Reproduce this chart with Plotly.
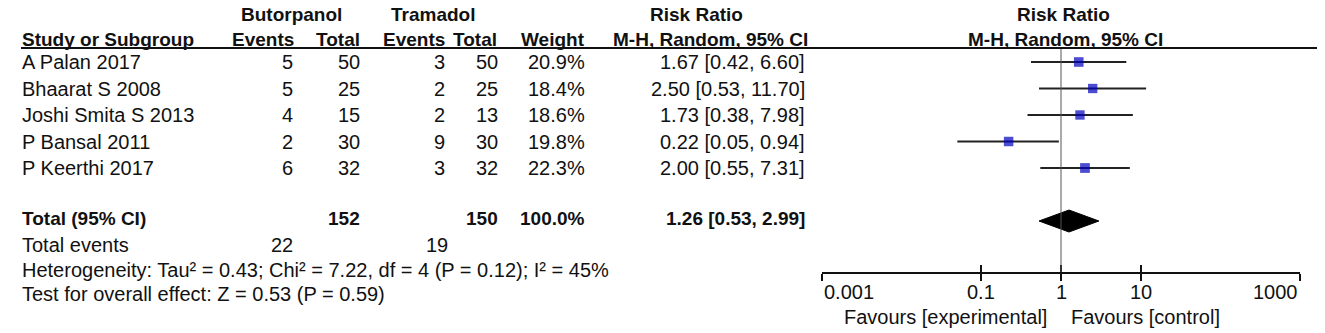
import math
import plotly.graph_objects as go

# ---------------- data ----------------
studies = ["A Palan 2017", "Bhaarat S 2008", "Joshi Smita S 2013", "P Bansal 2011", "P Keerthi 2017"]
but_events = [5, 5, 4, 2, 6]
but_total = [50, 25, 15, 30, 32]
tra_events = [3, 2, 2, 9, 3]
tra_total = [50, 25, 13, 30, 32]
weights = [20.9, 18.4, 18.6, 19.8, 22.3]
rr = [1.67, 2.50, 1.73, 0.22, 2.00]
ci_lo = [0.42, 0.53, 0.38, 0.05, 0.55]
ci_hi = [6.60, 11.70, 7.98, 0.94, 7.31]

total_label = "Total (95% CI)"
total_but = 152
total_tra = 150
total_weight = 100.0
total_rr = 1.26
total_lo = 0.53
total_hi = 2.99
events_but = 22
events_tra = 19

het_text = "Heterogeneity: Tau² = 0.43; Chi² = 7.22, df = 4 (P = 0.12); I² = 45%"
overall_text = "Test for overall effect: Z = 0.53 (P = 0.59)"

tick_vals = [0.001, 0.1, 1, 10, 1000]
tick_text = ["0.001", "0.1", "1", "10", "1000"]
fav_left = "Favours [experimental]"
fav_right = "Favours [control]"

# ---------------- layout helpers ----------------
W, H = 1325, 333
FONT = "Liberation Sans, Arial, sans-serif"
FS = 20
FS_B = 19
TXT = "#111111"


def px(x):
    return x / W


def py(y):
    return 1 - y / H


ROW0, STEP = 62, 26.5          # pixel centre of first study row, row pitch
AX_TOP, AX_BOT = 48, 272       # plot area (header rule to axis line)
y_top = (AX_TOP - ROW0) / STEP
y_bot = (AX_BOT - ROW0) / STEP
total_row = len(studies) + 1

fig = go.Figure()

# CI whiskers
xs, ys = [], []
for i, (lo, hi) in enumerate(zip(ci_lo, ci_hi)):
    xs += [lo, hi, None]
    ys += [i, i, None]
fig.add_trace(go.Scatter(x=xs, y=ys, mode="lines", line=dict(color="#222222", width=2),
                         hoverinfo="skip", showlegend=False))

# point estimates
fig.add_trace(go.Scatter(x=rr, y=list(range(len(studies))), mode="markers",
                         marker=dict(symbol="square", size=[7.5 + 0.1 * w for w in weights],
                                     color="#0000BE", line=dict(width=0)),
                         showlegend=False))

# pooled diamond
h = 11 / STEP
fig.add_trace(go.Scatter(x=[total_lo, total_rr, total_hi, total_rr, total_lo],
                         y=[total_row, total_row - h, total_row, total_row + h, total_row],
                         mode="lines", fill="toself", fillcolor="#000000",
                         line=dict(color="#000000", width=1), showlegend=False))

# second x axis used only for the upward half of the tick marks
fig.add_trace(go.Scatter(x=[1], y=[total_row], xaxis="x2", mode="markers",
                         marker=dict(opacity=0), showlegend=False, hoverinfo="skip"))

dom = [px(822), px(1300)]
fig.update_layout(
    width=W, height=H, margin=dict(l=0, r=0, t=0, b=0),
    paper_bgcolor="white", plot_bgcolor="white",
    font=dict(family=FONT, size=FS, color=TXT),
    xaxis=dict(type="log", range=[-3, 3], domain=dom, anchor="y",
               showline=True, linecolor="#111111", linewidth=2,
               ticks="outside", ticklen=7, tickwidth=2, tickcolor="#111111",
               tickvals=tick_vals, showticklabels=False,
               showgrid=False, zeroline=False),
    xaxis2=dict(type="log", range=[-3, 3], domain=dom, anchor="y", overlaying="x",
                side="bottom", showline=False,
                ticks="inside", ticklen=7, tickwidth=2, tickcolor="#111111",
                tickvals=tick_vals, showticklabels=False, showgrid=False, zeroline=False),
    yaxis=dict(range=[y_bot, y_top], domain=[py(AX_BOT), py(AX_TOP)], visible=False,
               showgrid=False, zeroline=False),
)

# reference line at RR = 1 and header rule
fig.add_shape(type="line", xref="x", yref="paper", x0=1, x1=1, y0=py(AX_BOT), y1=py(AX_TOP),
              line=dict(color="#555555", width=1))
fig.add_shape(type="line", xref="paper", yref="paper", x0=px(21), x1=px(1317),
              y0=py(AX_TOP), y1=py(AX_TOP), line=dict(color="#111111", width=2))

ann = []


def text(s, x, y, xanchor="left", yref="y", xref="paper", bold=False, xshift=0):
    ann.append(dict(text=f"<b>{s}</b>" if bold else s, x=x, y=y, xref=xref, yref=yref,
                    xanchor=xanchor, yanchor="middle", showarrow=False, xshift=xshift,
                    font=dict(family=FONT, size=FS_B if bold else FS, color=TXT)))


# column right edges (px)
C_BE, C_BT, C_TE, C_TT, C_W, C_CI = 295, 362, 447, 500, 587, 807

# headers
hy1, hy2 = py(14), py(39)
text("Butorpanol", px(291), hy1, "center", "paper", bold=True)
text("Tramadol", px(433), hy1, "center", "paper", bold=True)
text("Risk Ratio", px(697), hy1, "center", "paper", bold=True)
text("Risk Ratio", px(1063), hy1, "center", "paper", bold=True)
text("Study or Subgroup", px(20), hy2, "left", "paper", bold=True)
text("Events", px(C_BE + 1), hy2, "right", "paper", bold=True)
text("Total", px(C_BT), hy2, "right", "paper", bold=True)
text("Events", px(C_TE), hy2, "right", "paper", bold=True)
text("Total", px(C_TT - 1), hy2, "right", "paper", bold=True)
text("Weight", px(C_W), hy2, "right", "paper", bold=True)
text("M-H, Random, 95% CI", px(C_CI + 3), hy2, "right", "paper", bold=True)
text("M-H, Random, 95% CI", px(1065), hy2, "center", "paper", bold=True)

# study rows
for i, s in enumerate(studies):
    text(s, px(20), i)
    text(str(but_events[i]), px(C_BE), i, "right")
    text(str(but_total[i]), px(C_BT), i, "right")
    text(str(tra_events[i]), px(C_TE), i, "right")
    text(str(tra_total[i]), px(C_TT), i, "right")
    text(f"{weights[i]:.1f}%", px(C_W), i, "right")
    text(f"{rr[i]:.2f} [{ci_lo[i]:.2f}, {ci_hi[i]:.2f}]", px(C_CI), i, "right")

# total row
tr = total_row - 0.08
text(total_label, px(20), tr, bold=True)
text(str(total_but), px(C_BT), tr, "right", bold=True)
text(str(total_tra), px(C_TT), tr, "right", bold=True)
text(f"{total_weight:.1f}%", px(C_W), tr, "right", bold=True)
text(f"{total_rr:.2f} [{total_lo:.2f}, {total_hi:.2f}]", px(C_CI), tr, "right", bold=True)

# footer rows
text("Total events", px(20), py(245), yref="paper")
text(str(events_but), px(C_BE), py(245), "right", "paper")
text(str(events_tra), px(C_TE + 3), py(245), "right", "paper")
text(het_text, px(20), py(270), yref="paper")
text(overall_text, px(20), py(294), yref="paper")

# tick labels
for j, (v, t) in enumerate(zip(tick_vals, tick_text)):
    xa = "left" if j == 0 else ("right" if j == len(tick_vals) - 1 else "center")
    text(t, math.log10(v), py(292), xa, "paper", xref="x")

text(fav_left, 0, py(317), "right", "paper", xref="x", xshift=-12)
text(fav_right, 0, py(317), "left", "paper", xref="x", xshift=8)

fig.update_layout(annotations=ann)
fig.write_html("out.html", config={"displayModeBar": False},
               post_script="document.body.style.margin='0';")
